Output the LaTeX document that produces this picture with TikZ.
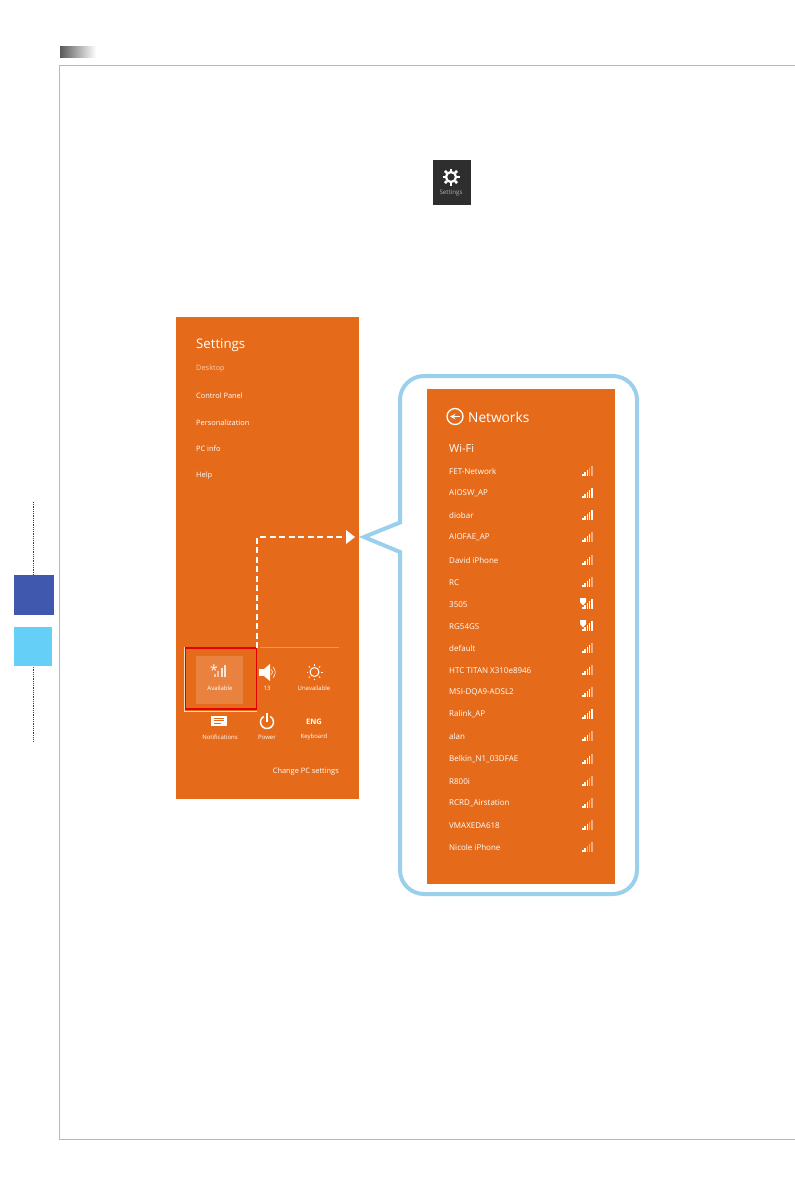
\documentclass[tikz,border=0pt]{standalone}
\usepackage{fontspec}
\usetikzlibrary{calc}
\setmainfont{Open Sans}
\definecolor{panelorange}{HTML}{E56B1A}
\definecolor{calloutblue}{HTML}{9BD0EC}
\definecolor{tabdark}{HTML}{4058AE}
\definecolor{tablight}{HTML}{66CFF7}
\definecolor{framegray}{HTML}{B8B8B8}
\tikzset{
  netname/.style={anchor=west, text=white, font=\fontsize{8}{9}\selectfont, inner sep=0pt, yshift=-0.3pt},
  setitem/.style={anchor=west, text=white, font=\fontsize{7.4}{9}\selectfont, inner sep=0pt, yshift=-0.8pt},
  tilelabel/.style={anchor=center, text=white, font=\fontsize{6}{7}\selectfont, inner sep=0pt},
}
% signal bars, #1 = right end, #2 = baseline, #3 = how many are bright
\newcommand{\signalbars}[3]{
  \foreach \b in {1,...,5} {
    \pgfmathsetmacro{\bop}{\b<=#3 ? 1 : 0.45}
    \fill[white, opacity=\bop] ({#1-12+2.2*\b},#2) rectangle ({#1-12+2.2*\b+1.6},{#2-2*\b});
  }
}
\begin{document}
\begin{tikzpicture}[x=1pt,y=-1pt]
    \useasboundingbox (0,0) rectangle (795,1192);

    % Header bar and page frame
    \shade[left color=black!65, right color=white] (60,46) rectangle (96,57);
    \draw[framegray, line width=1pt] (795,65) -- (59.5,65) -- (59.5,1139.5) -- (795,1139.5);

    % Side tabs
    \draw[black!75, densely dotted, line width=0.8pt] (33,502) -- (33,575);
    \draw[black!75, densely dotted, line width=0.8pt] (33,665) -- (33,741);
    \fill[tabdark] (14,575) rectangle (54,615);
    \fill[tablight] (14,627) rectangle (52,666);

    % Settings icon on top
    \fill[black!82] (433,160) rectangle (471,205);
    \draw[white, line width=2.2pt] (451,177) circle (5);
    \foreach \a in {0,45,...,315}
      \draw[white, line width=2.6pt] ($(451,177)+(\a:6)$) -- ($(451,177)+(\a:8.5)$);
    \node[text=white!70!black, font=\fontsize{6.2}{7}\selectfont, inner sep=0pt] (gearlabel) at (451,193) {Settings};

    % Settings panel
    \fill[panelorange] (176,317) rectangle (359,799);
    \node[setitem, font=\fontsize{13.2}{15}\selectfont] (settingstitle) at (196,344) {Settings};
    \node[setitem, text=white!65!panelorange] (desktop) at (196,368) {Desktop};
    \node[setitem] (controlpanel) at (196,395) {Control Panel};
    \node[setitem] (personal) at (196,422) {Personalization};
    \node[setitem] (pcinfo) at (196,448) {PC info};
    \node[setitem] (helpitem) at (196,475) {Help};
    \draw[white!30!panelorange, line width=0.5pt] (260,647) -- (339,647);

    % Tiles at the bottom of the panel
    \fill[white, opacity=0.16] (196,656) rectangle (243,704);
    \foreach \b in {1,...,4} {
      \pgfmathsetmacro{\bop}{\b<=2 ? 0.55 : 0.8}
      \fill[white, opacity=\bop] ({210+3.5*\b},677) rectangle ({210+3.5*\b+2},{677-3*\b});
    }
    \node[text=white, font=\fontsize{14}{14}\selectfont, inner sep=0pt] (star) at (214,670) {*};
    \node[tilelabel] (available) at (220,688) {Available};
    \fill[white] (259,669) rectangle (264,676);
    \fill[white] (264,669) -- (270,664) -- (270,681) -- (264,676) -- cycle;
    \draw[white, line width=0.7pt] (271.5,669.5) arc (-40:40:4);
    \draw[white, line width=0.6pt] (273,667) arc (-45:45:7.5);
    \node[tilelabel] (volume) at (267,688) {13};
    \draw[white, line width=1pt] (314.5,672) circle (4.5);
    \foreach \a in {0,45,...,315}
      \draw[white, line width=0.8pt] ($(314.5,672)+(\a:6.5)$) -- ($(314.5,672)+(\a:8)$);
    \node[tilelabel] (unavailable) at (314,688) {Unavailable};
    \fill[white] (211,716) rectangle (227,725.5);
    \draw[panelorange, line width=0.8pt] (214,718.5) -- (224,718.5) (214,720.8) -- (224,720.8) (214,723) -- (221,723);
    \node[tilelabel] (notifications) at (220,737) {Notifications};
    \draw[white, line width=1.5pt] (263.75,716.4) arc (240:-60:6.5);
    \draw[white, line width=1.5pt] (267,713) -- (267,722);
    \node[tilelabel] (power) at (267,737) {Power};
    \node[tilelabel, font=\fontsize{7.5}{8}\bfseries\selectfont] (engkey) at (314,722) {ENG};
    \node[tilelabel] (keyboard) at (314,737) {Keyboard};
    \node[setitem, anchor=east] (changepc) at (339,771) {Change PC settings};

    % Red highlight around the first tile
    \draw[white!75!panelorange, line width=1pt] (184,647) -- (184,711) -- (257,711);
    \draw[red!90!black, line width=1.8pt] (185.5,648) rectangle (256.5,709);

    % Dashed arrow to the callout
    \coordinate (dashstart) at (257,648);
    \coordinate (dashend) at (348,537);
    \draw[white, line width=2pt, dash pattern=on 6pt off 3.5pt] (dashstart) -- (257,537) -- (dashend);
    \fill[white] (346,530) -- (355,537) -- (346,544) -- cycle;

    % Callout outline
    \draw[calloutblue, line width=4pt, line join=miter] (364,537) -- (400,522.5) -- (400,400)
      arc (180:270:24) -- (613,376) arc (270:360:24) -- (637,870)
      arc (0:90:24) -- (424,894) arc (90:180:24) -- (400,552) -- cycle;

    % Networks panel
    \fill[panelorange] (427,389) rectangle (615,884);
    \draw[white, line width=1.3pt] (455,416.5) circle (8);
    \draw[white, line width=1.4pt, -stealth] (460,416.5) -- (450,416.5);
    \node[netname, font=\fontsize{13.7}{15}\selectfont] (networks) at (468,417) {Networks};
    \node[netname, font=\fontsize{11}{12}\selectfont] (wifi) at (449,448) {Wi-Fi};

    % Network list, y position / name / bright bars
    \foreach \y/\name/\lvl in {471/FET-Network/3, 493/AIOSW\_AP/5, 515/diobar/5, 537/AIOFAE\_AP/4,
        560/David iPhone/4, 582/RC/4, 604/3505/5, 626/RG54GS/5, 648/default/4,
        670/HTC TITAN X310e8946/4, 692/MSI-DQA9-ADSL2/4, 714/Ralink\_AP/5, 736/alan/3,
        759/Belkin\_N1\_03DFAE/4, 781/R800i/3, 803/RCRD\_Airstation/3, 825/VMAXEDA618/3, 847/Nicole iPhone/2}
    {
        \node[netname] (net\y) at (449,\y) {\name};
        \signalbars{592}{\y+5}{\lvl}
    }
    % Shield marks on the two secured networks
    \fill[white] (580,598) -- (586,598) -- (586,602) -- (583,605.5) -- (580,602) -- cycle;
    \fill[white] (580,620) -- (586,620) -- (586,624) -- (583,627.5) -- (580,624) -- cycle;
\end{tikzpicture}
\end{document}
